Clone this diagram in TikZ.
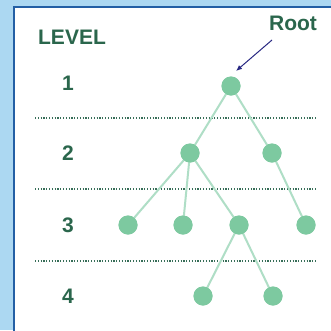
\documentclass[tikz,border=0pt]{standalone}
\usepackage{fontspec}
\setmainfont{Liberation Sans}
\usetikzlibrary{arrows.meta}
\definecolor{bgblue}{RGB}{172,216,242}
\definecolor{frameblue}{RGB}{35,95,165}
\definecolor{txtgreen}{RGB}{42,102,76}
\definecolor{nodegreen}{RGB}{125,201,160}
\definecolor{edgegreen}{RGB}{175,222,198}
\definecolor{dotgreen}{RGB}{55,110,88}
\definecolor{arrownavy}{RGB}{40,40,130}
\tikzset{
  treenode/.style={circle, fill=nodegreen, inner sep=0pt, minimum size=19pt},
  edge/.style={draw=edgegreen, line width=2pt},
  lbl/.style={text=txtgreen, font=\fontsize{21}{23}\selectfont\bfseries, inner sep=0pt},
  sep/.style={draw=dotgreen, line width=1.4pt, dash pattern=on 1.2pt off 1.6pt},
}
\begin{document}
\begin{tikzpicture}[x=1pt,y=-1pt]
\useasboundingbox (0,0) rectangle (331,330);
\fill[bgblue] (0,0) rectangle (331,330);
\fill[white] (14,7) rectangle (335,335);
\draw[frameblue, line width=1.6pt] (14,335) -- (14,7) -- (335,7);
% labels
\node[lbl] (level) at (72,37) {LEVEL};
\node[lbl] (l1) at (68,83) {1};
\node[lbl] (l2) at (68,153) {2};
\node[lbl] (l3) at (68,225) {3};
\node[lbl] (l4) at (68,296) {4};
\node[lbl] (roottxt) at (293,23) {Root};
% separators
\coordinate (s1a) at (35,118); \coordinate (s1b) at (317,118);
\coordinate (s2a) at (35,189); \coordinate (s2b) at (317,189);
\coordinate (s3a) at (35,261); \coordinate (s3b) at (317,261);
\draw[sep] (s1a) -- (s1b);
\draw[sep] (s2a) -- (s2b);
\draw[sep] (s3a) -- (s3b);
% nodes
\node[treenode] (r) at (231,86) {};
\node[treenode] (a) at (190,153) {};
\node[treenode] (b) at (272,153) {};
\node[treenode] (c1) at (128,225) {};
\node[treenode] (c2) at (183,225) {};
\node[treenode] (c3) at (239,225) {};
\node[treenode] (c4) at (306,225) {};
\node[treenode] (d1) at (203,296) {};
\node[treenode] (d2) at (273,296) {};
% edges
\path[edge] (r.center) -- (a.center) (r.center) -- (b.center)
  (a.center) -- (c1.center) (a.center) -- (c2.center) (a.center) -- (c3.center)
  (b.center) -- (c4.center) (c3.center) -- (d1.center) (c3.center) -- (d2.center);
\foreach \n in {r,a,b,c1,c2,c3,c4,d1,d2} \fill[nodegreen] (\n) circle (9.5pt);
% arrow
\coordinate (as) at (272,40);
\coordinate (ae) at (236,71);
\draw[arrownavy, line width=1pt, -{Latex[length=6pt,width=5pt]}] (as) -- (ae);
\end{tikzpicture}
\end{document}
